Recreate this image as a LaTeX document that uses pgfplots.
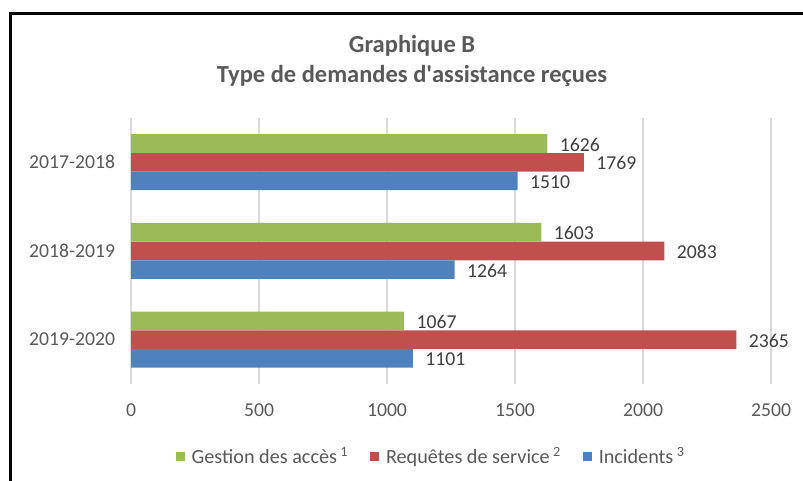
\documentclass[border=0pt]{standalone}
\usepackage{fontspec}
\setmainfont{Carlito}
\usepackage{pgfplots}
\pgfplotsset{compat=1.18}
\definecolor{cgreen}{HTML}{9BBB59}
\definecolor{cred}{HTML}{C0504D}
\definecolor{cblue}{HTML}{4F81BD}
\definecolor{tgray}{HTML}{595959}
\definecolor{lgray}{HTML}{404040}
\definecolor{gridc}{HTML}{D9D9D9}
\begin{document}
\begin{tikzpicture}[x=1pt,y=1pt]
\useasboundingbox (0,0) rectangle (803,481);
\draw[line width=2.7pt, line join=miter] (10.5,0) -- (10.5,467.7) -- (804,467.7);
\node[anchor=base, font=\fontsize{24.5}{29}\selectfont\bfseries, text=tgray] at (412,428) {Graphique B};
\node[anchor=base, font=\fontsize{24.5}{29}\selectfont\bfseries, text=tgray] at (412,398) {Type de demandes d\textquotesingle assistance reçues};
\coordinate (O) at (131,97);
\begin{axis}[
  at={(O)}, anchor=south west, scale only axis,
  width=640pt, height=266pt,
  xbar, bar width=18.6pt,
  xmin=0, xmax=2500, ymin=0.5, ymax=3.5,
  xtick={0,500,1000,1500,2000,2500},
  ytick={1,2,3},
  yticklabels={2019-2020,2018-2019,2017-2018},
  axis line style={draw=none},
  major tick length=0pt,
  xmajorgrids, grid style={gridc, line width=1.3pt},
  /pgf/number format/assume math mode=true,
  /pgf/number format/1000 sep={},
  ticklabel style={font=\fontsize{19.7}{22}\selectfont, text=tgray},
  xticklabel style={yshift=-16pt},
  yticklabel style={xshift=-12.5pt},
  point meta=x,
  nodes near coords,
  nodes near coords style={font=\fontsize{19.7}{22}\selectfont, text=lgray, anchor=west, xshift=9pt, yshift=-1pt, /pgf/number format/1000 sep={}, /pgf/number format/assume math mode=true},
  legend style={at={(0.4688,-0.2707)}, anchor=center, draw=none, fill=none,
    font=\fontsize{20.2}{22}\selectfont, text=tgray,
    /tikz/every odd column/.append style={column sep=5pt},
    /tikz/every even column/.append style={column sep=20pt}},
  legend columns=3,
  legend image code/.code={\fill[#1] (0pt,-4.5pt) rectangle (9pt,4.5pt);},
]
\addplot[fill=cgreen, draw=none, bar shift=18.8pt] coordinates {(1067,1) (1603,2) (1626,3)};
\addplot[fill=cred, draw=none, bar shift=0pt] coordinates {(2365,1) (2083,2) (1769,3)};
\addplot[fill=cblue, draw=none, bar shift=-18.6pt] coordinates {(1101,1) (1264,2) (1510,3)};
\legend{Gestion des accès\,\textsuperscript{1}, Requêtes de service\,\textsuperscript{2}, Incidents\,\textsuperscript{3}}
\end{axis}
\end{tikzpicture}
\end{document}
